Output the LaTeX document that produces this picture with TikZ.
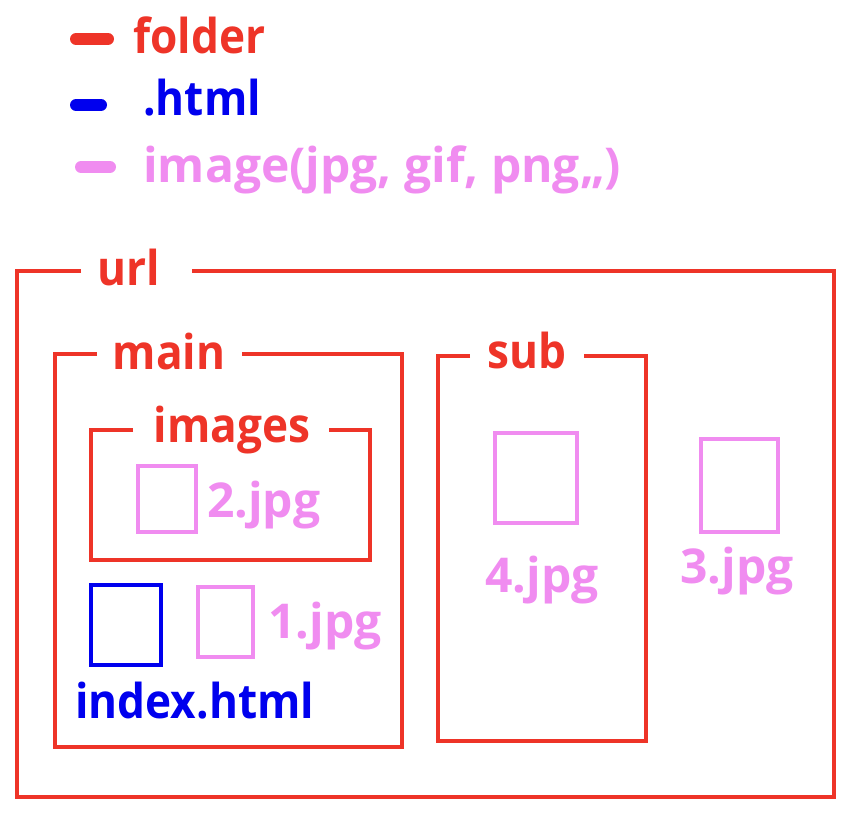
\documentclass[tikz,border=0pt]{standalone}
\usepackage{fontspec}
\setmainfont{Open Sans}[BoldFont={* Bold}]
\newfontfamily\narrowfont{Open Sans}[BoldFont={* Bold}, FakeStretch=0.92]
\definecolor{fred}{RGB}{238,52,40}
\definecolor{fblue}{RGB}{0,0,238}
\definecolor{fpink}{RGB}{240,140,240}
\tikzset{
  box/.style={draw=fred, line width=3.2pt},
  img/.style={draw=fpink, line width=3pt},
  htm/.style={draw=fblue, line width=3.6pt},
  ttl/.style={inner sep=0pt, anchor=base, text=fred, font=\narrowfont\bfseries\fontsize{36}{40}\selectfont},
  lbl/.style={inner sep=0pt, font=\bfseries\fontsize{36}{40}\selectfont},
  nlbl/.style={inner sep=0pt, font=\narrowfont\bfseries\fontsize{36}{40}\selectfont},
  leg/.style={line width=9pt, line cap=round},
}
\begin{document}
\begin{tikzpicture}[x=0.75pt,y=-0.75pt]
\useasboundingbox (0,0) rectangle (848,821);
% legend
\coordinate (l1a) at (76,39); \coordinate (l1b) at (108,39);
\draw[leg, fred] (l1a) -- (l1b);
\node[nlbl, text=fred, anchor=base west] (lfolder) at (133,53) {folder};
\coordinate (l2a) at (76,105); \coordinate (l2b) at (101,105);
\draw[leg, fblue] (l2a) -- (l2b);
\node[nlbl, text=fblue, anchor=base west] (lhtml) at (143,115) {.html};
\coordinate (l3a) at (81,167); \coordinate (l3b) at (110,167);
\draw[leg, fpink] (l3a) -- (l3b);
\node[lbl, text=fpink, anchor=base west] (limage) at (143,182) {image(jpg, gif, png,,)};
% boxes (open at the title gap)
\draw[box] (81,271) -- (17,271) -- (17,797) -- (834,797) -- (834,271) -- (192,271);
\node[ttl] (url) at (129,285) {url};
\draw[box] (97,354) -- (55,354) -- (55,747) -- (402,747) -- (402,354) -- (242,354);
\node[ttl] (main) at (169,369) {main};
\draw[box] (133,430) -- (91,430) -- (91,560) -- (370,560) -- (370,430) -- (329,430);
\node[ttl] (images) at (232,442) {images};
\draw[box] (470,356) -- (438,356) -- (438,741) -- (646,741) -- (646,356) -- (584,356);
\node[ttl] (sub) at (527,368) {sub};
% files
\draw[img] (138,466) rectangle (196,532);
\node[lbl, text=fpink, anchor=base west] (f2) at (207,517) {2.jpg};
\draw[htm] (91,585) rectangle (161,665);
\node[nlbl, text=fblue, anchor=base west] (findex) at (75,718) {index.html};
\draw[img] (198,587) rectangle (253,657);
\node[lbl, text=fpink, anchor=base west] (f1) at (268,638) {1.jpg};
\draw[img] (495,433) rectangle (577,523);
\node[lbl, text=fpink, anchor=base] (f4) at (542,592) {4.jpg};
\draw[img] (701,439) rectangle (778,532);
\node[lbl, text=fpink, anchor=base] (f3) at (737,583) {3.jpg};
\end{tikzpicture}
\end{document}
